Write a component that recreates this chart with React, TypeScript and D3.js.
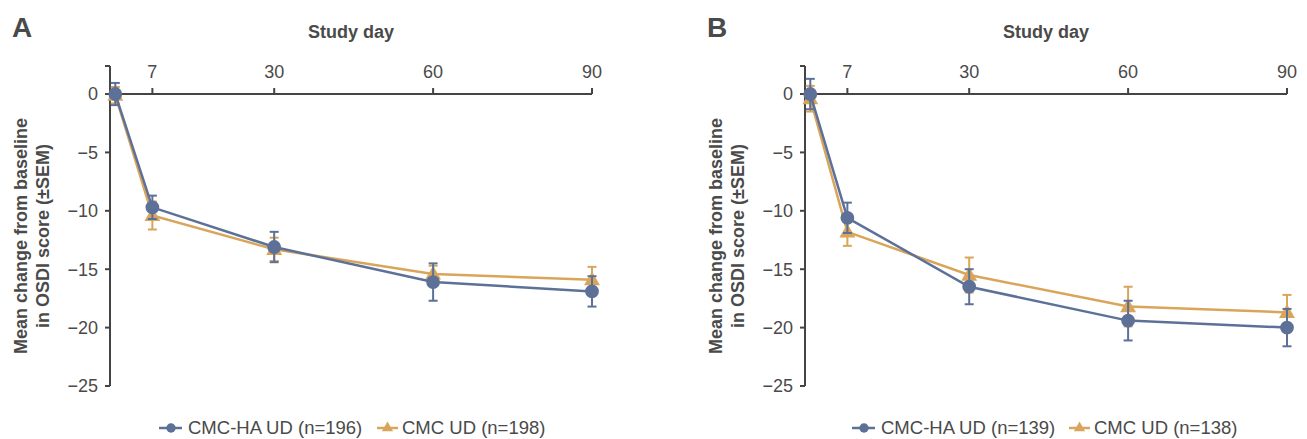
import React from "react";
import * as d3 from "d3";

const days = [0, 7, 30, 60, 90];
const xTicks = [7, 30, 60, 90];
const yTicks = [0, -5, -10, -15, -20, -25];

const aHaMean = [0, -9.7, -13.1, -16.1, -16.9];
const aHaSem = [0.95, 1.0, 1.3, 1.6, 1.3];
const aCmcMean = [-0.1, -10.4, -13.3, -15.4, -15.9];
const aCmcSem = [0.7, 1.2, 1.0, 0.7, 1.1];

const bHaMean = [0, -10.6, -16.5, -19.4, -20.0];
const bHaSem = [1.3, 1.3, 1.5, 1.7, 1.6];
const bCmcMean = [-0.4, -11.8, -15.5, -18.2, -18.7];
const bCmcSem = [1.1, 1.2, 1.5, 1.7, 1.5];

const panels = [
  { letter: "A", haLabel: "CMC-HA UD (n=196)", cmcLabel: "CMC UD (n=198)", ha: aHaMean, haSem: aHaSem, cmc: aCmcMean, cmcSem: aCmcSem },
  { letter: "B", haLabel: "CMC-HA UD (n=139)", cmcLabel: "CMC UD (n=138)", ha: bHaMean, haSem: bHaSem, cmc: bCmcMean, cmcSem: bCmcSem },
];

const BLUE = "#5d7198";
const ORANGE = "#d9a55b";
const TEXT = "#4a4a4a";
const AXIS = "#444444";
const FONT = "'Liberation Sans', Arial, Helvetica, sans-serif";

function Series({ x, y, means, sems, color, shape }) {
  const line = d3.line().x((d, i) => x(days[i])).y((d) => y(d));
  const sym = d3.symbol().type(shape === "circle" ? d3.symbolCircle : d3.symbolTriangle).size(shape === "circle" ? 150 : 110);
  return (
    <g>
      <path d={line(means)} fill="none" stroke={color} strokeWidth={2.5} />
      {means.map((m, i) => {
        const cx = x(days[i]);
        const y1 = y(m + sems[i]);
        const y2 = y(m - sems[i]);
        return (
          <g key={i}>
            <line x1={cx} x2={cx} y1={y1} y2={y2} stroke={color} strokeWidth={2} />
            <line x1={cx - 4.5} x2={cx + 4.5} y1={y1} y2={y1} stroke={color} strokeWidth={2} />
            <line x1={cx - 4.5} x2={cx + 4.5} y1={y2} y2={y2} stroke={color} strokeWidth={2} />
            <path d={sym()} transform={`translate(${cx},${y(m) + (shape === "circle" ? 0 : 1)})`} fill={color} />
          </g>
        );
      })}
    </g>
  );
}

function Panel({ p, ox }) {
  const axisX = 110 + ox;
  const x = d3.scaleLinear().domain([-1.0, 90]).range([axisX, axisX + 482]);
  const y = d3.scaleLinear().domain([-25, 2.4]).range([386, 66]);
  const circ = d3.symbol().type(d3.symbolCircle).size(70);
  const tri = d3.symbol().type(d3.symbolTriangle).size(55);
  const legY = 428;
  const lox = ox > 0 ? ox - 2 : 0;
  const legHaX = 159 + lox;
  const legCmcX = 377 + lox - (ox > 0 ? 1 : 0);
  return (
    <g fontFamily={FONT} fill={TEXT}>
      <text x={12 + ox} y={37} fontSize={28} fontWeight="bold" fill={TEXT}>{p.letter}</text>
      <text x={(x(-1.0) + x(90)) / 2} y={38} fontSize={18} fontWeight="bold" textAnchor="middle" fill={TEXT}>Study day</text>
      {/* y axis */}
      <line x1={axisX} x2={axisX} y1={y(2.4)} y2={y(-25)} stroke={AXIS} strokeWidth={2} />
      <line x1={axisX - 5} x2={axisX} y1={y(2.4)} y2={y(2.4)} stroke={AXIS} strokeWidth={2} />
      {yTicks.map((t) => (
        <g key={t}>
          <line x1={axisX - 5} x2={axisX} y1={y(t)} y2={y(t)} stroke={AXIS} strokeWidth={2} />
          <text x={axisX - 12} y={y(t)} dy="0.35em" fontSize={18} textAnchor="end" fill={TEXT}>
            {t === 0 ? "0" : "\u2212" + Math.abs(t)}
          </text>
        </g>
      ))}
      {/* x axis */}
      <line x1={axisX} x2={x(90)} y1={y(0)} y2={y(0)} stroke={AXIS} strokeWidth={2} />
      {xTicks.map((t) => (
        <g key={t}>
          <line x1={x(t)} x2={x(t)} y1={y(0) - 6} y2={y(0)} stroke={AXIS} strokeWidth={2} />
          <text x={x(t)} y={y(0) - 16} fontSize={18} textAnchor="middle" fill={TEXT}>{t}</text>
        </g>
      ))}
      {/* y label */}
      <g transform={`translate(${27 + ox},236) rotate(-90)`}>
        <text x={0} y={0} fontSize={18} fontWeight="bold" textAnchor="middle" fill={TEXT}>Mean change from baseline</text>
        <text x={0} y={22} fontSize={18} fontWeight="bold" textAnchor="middle" fill={TEXT}>in OSDI score (±SEM)</text>
      </g>
      <Series x={x} y={y} means={p.cmc} sems={p.cmcSem} color={ORANGE} shape="triangle" />
      <Series x={x} y={y} means={p.ha} sems={p.haSem} color={BLUE} shape="circle" />
      {/* legend */}
      <line x1={legHaX} x2={legHaX + 23} y1={legY} y2={legY} stroke={BLUE} strokeWidth={2.5} />
      <path d={circ()} transform={`translate(${legHaX + 12},${legY})`} fill={BLUE} />
      <text x={legHaX + 29} y={legY} dy="0.35em" fontSize={18.5} fill={TEXT}>{p.haLabel}</text>
      <line x1={legCmcX} x2={legCmcX + 21} y1={legY} y2={legY} stroke={ORANGE} strokeWidth={2.5} />
      <path d={tri()} transform={`translate(${legCmcX + 10.5},${legY})`} fill={ORANGE} />
      <text x={legCmcX + 25} y={legY} dy="0.35em" fontSize={18.5} fill={TEXT}>{p.cmcLabel}</text>
    </g>
  );
}

export default function App() {
  return (
    <svg width={1307} height={439} style={{ position: "absolute", left: 0, top: 0, background: "#fff" }}>
      <Panel p={panels[0]} ox={0} />
      <Panel p={panels[1]} ox={695} />
    </svg>
  );
}
